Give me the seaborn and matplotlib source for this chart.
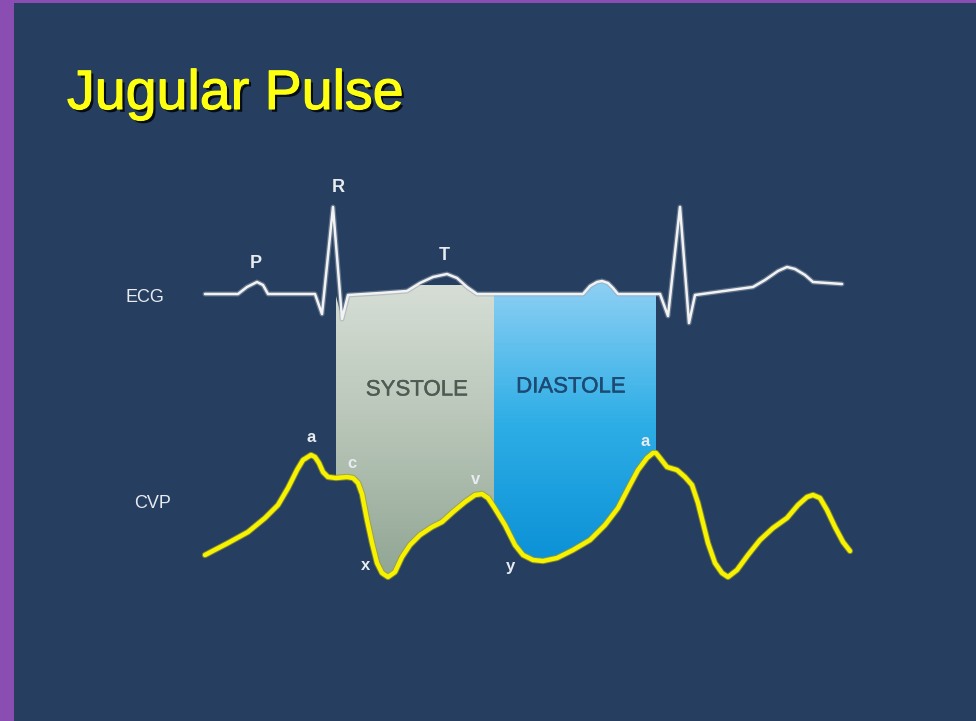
"""Jugular pulse slide: ECG over CVP with systole / diastole bands."""

import matplotlib
matplotlib.use("Agg")
import matplotlib.pyplot as plt
import matplotlib.patheffects as pe
from matplotlib.patches import Rectangle, Polygon
from matplotlib.colors import LinearSegmentedColormap
import seaborn as sns
import numpy as np
import pandas as pd

# ECG trace (pixel coords, y down)
ecg_x = [205, 238, 247, 257, 263, 268, 315, 322, 333, 342, 348, 380, 407, 420, 433, 447,
         457, 467, 477, 494, 583, 590, 597, 602, 608, 613, 618, 656, 660, 668, 680, 689,
         695, 753, 765, 778, 787, 795, 805, 813, 842]
ecg_y = [294, 294, 287, 282, 285, 294, 294, 314, 207, 319, 295, 293, 291, 283, 277, 274,
         278, 287, 294, 294, 294, 286, 282, 281, 283, 288, 294, 294, 294, 316, 207, 323,
         295, 287, 280, 271, 267, 269, 275, 282, 284]

# CVP trace
cvp_x = [205, 228, 248, 265, 278, 288, 297, 303, 311, 315, 319, 323, 328, 336, 347, 353,
         358, 362, 367, 372, 377, 382, 388, 395, 402, 410, 420, 432, 442, 453, 465, 475,
         482, 488, 494, 505, 510, 515, 523, 533, 543, 557, 573, 590, 605, 618, 630, 638,
         647, 653, 656, 660, 667, 677, 685, 692, 698, 703, 708, 715, 722, 728, 737, 748,
         760, 773, 787, 798, 807, 813, 820, 827, 835, 843, 850]
cvp_y = [555, 543, 532, 518, 505, 488, 470, 460, 455, 457, 463, 472, 477, 478, 477, 478,
         483, 494, 520, 543, 563, 573, 577, 572, 557, 545, 535, 527, 522, 512, 502, 495,
         494, 498, 507, 525, 535, 545, 555, 560, 561, 558, 550, 540, 525, 508, 485, 470,
         458, 453, 453, 458, 467, 470, 477, 485, 503, 523, 543, 563, 573, 577, 570, 555,
         540, 528, 518, 505, 497, 495, 498, 510, 527, 542, 551]

systole_start, systole_end, diastole_end = 336, 494, 656

ecg_labels = ["P", "R", "T"]
ecg_label_x = [256, 338, 444]
ecg_label_y = [263, 187, 256]
cvp_labels = ["a", "c", "x", "v", "y", "a"]
cvp_label_x = [311, 352, 366, 476, 510, 645]
cvp_label_y = [438, 464, 565, 480, 566, 441]

BG = "#263f60"
PURPLE = "#8a4db2"

sns.set_theme(style="white")
plt.rcParams["font.family"] = ["Liberation Sans", "DejaVu Sans"]

fig = plt.figure(figsize=(9.76, 7.21), dpi=100)
fig.patch.set_facecolor(PURPLE)
ax = fig.add_axes([0, 0, 1, 1])
ax.add_patch(Rectangle((14, 3), 976, 721, facecolor=BG, edgecolor="none", zorder=0))


def band(x0, x1, top_first=None):
    """polygon between ECG (top) and CVP (bottom) for x0..x1"""
    top = [(x, y) for x, y in zip(ecg_x, ecg_y) if x0 <= x <= x1]
    if top_first is not None:
        top = [top_first] + top
    bot = [(x, y) for x, y in zip(cvp_x, cvp_y) if x0 <= x <= x1][::-1]
    return top + bot


def gradient_fill(poly_pts, colors, y0, y1):
    poly = Polygon(poly_pts, closed=True, facecolor="none", edgecolor="none",
                   transform=ax.transData)
    ax.add_patch(poly)
    cmap = LinearSegmentedColormap.from_list("g", colors)
    grad = np.linspace(0, 1, 256).reshape(-1, 1)
    xs = [p[0] for p in poly_pts]
    im = ax.imshow(grad, cmap=cmap, aspect="auto", zorder=1,
                   extent=(min(xs), max(xs), y1, y0))
    im.set_clip_path(poly)


gradient_fill(band(systole_start, systole_end, top_first=(systole_start, 296)),
              ["#d6ded5", "#b6c4b6", "#90a594"], 285, 580)
gradient_fill(band(systole_end, diastole_end),
              ["#8fd0f4", "#2eaee6", "#0a90d6"], 280, 565)

ecg = pd.DataFrame({"x": ecg_x, "y": ecg_y})
cvp = pd.DataFrame({"x": cvp_x, "y": cvp_y})

sns.lineplot(data=ecg, x="x", y="y", sort=False, estimator=None, ax=ax,
             color="#f2f2f2", linewidth=1.8, zorder=3,
             path_effects=[pe.Stroke(linewidth=3.6, foreground="#9aa5b5", alpha=0.5),
                           pe.Normal()])
sns.lineplot(data=cvp, x="x", y="y", sort=False, estimator=None, ax=ax,
             color="#f7f200", linewidth=3.2, zorder=3,
             path_effects=[pe.Stroke(linewidth=4.6, foreground="#9c9a2a", alpha=0.7),
                           pe.Normal()])
for line in ax.get_lines():
    line.set_solid_joinstyle("round")
    line.set_solid_capstyle("round")

ax.set_xlim(0, 976)
ax.set_ylim(721, 0)
ax.set_xlabel("")
ax.set_ylabel("")
ax.axis("off")

# title with drop shadow
ax.text(67, 95, "Jugular Pulse", color="#ffff10", fontsize=40, ha="left", va="center",
        zorder=5,
        path_effects=[pe.withSimplePatchShadow(offset=(2, -2), shadow_rgbFace="black",
                                               alpha=0.8),
                      pe.withStroke(linewidth=0.8, foreground="#ffff10")])

lab = dict(color="#e8ebef", fontsize=13, ha="center", va="center", zorder=5)
ax.text(145, 297, "ECG", **lab)
ax.text(153, 503, "CVP", **lab)
for t, x, y in zip(ecg_labels, ecg_label_x, ecg_label_y):
    ax.text(x, y, t, fontweight="bold", **lab)
for t, x, y in zip(cvp_labels, cvp_label_x, cvp_label_y):
    ax.text(x, y, t, fontweight="bold", **{**lab, "fontsize": 12})

ax.text(417, 390, "SYSTOLE", color="#4e5a52", fontsize=16, ha="center", va="center",
        zorder=5, path_effects=[pe.withStroke(linewidth=0.3, foreground="#4e5a52")])
ax.text(571, 387, "DIASTOLE", color="#1d4a72", fontsize=16, ha="center", va="center",
        zorder=5, path_effects=[pe.withStroke(linewidth=0.3, foreground="#1d4a72")])

fig.savefig("out.png", dpi=100, facecolor=fig.get_facecolor())
